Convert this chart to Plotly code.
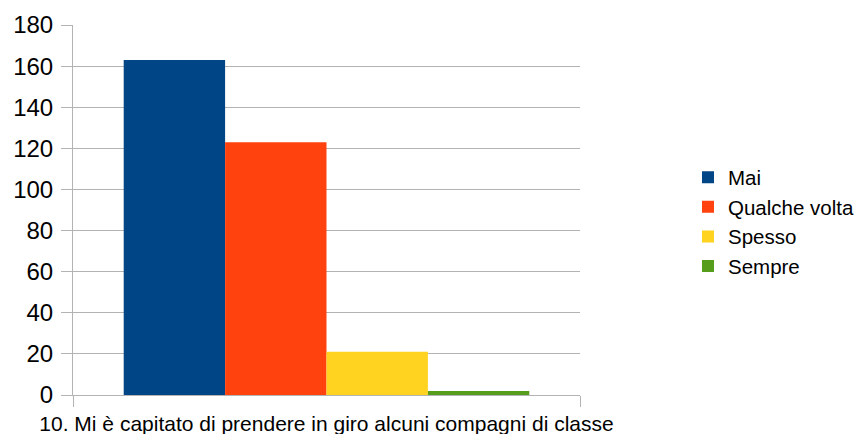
import plotly.graph_objects as go

category = ["10. Mi è capitato di prendere in giro alcuni compagni di classe"]
series_names = ["Mai", "Qualche volta", "Spesso", "Sempre"]
series_values = [163, 123, 21, 2]
colors = ["#004586", "#ff420e", "#ffd320", "#579d1c"]
y_ticks = [0, 20, 40, 60, 80, 100, 120, 140, 160, 180]

fig = go.Figure()
for name, val, col in zip(series_names, series_values, colors):
    fig.add_trace(go.Bar(name=name, x=category, y=[val], marker=dict(color=col, line=dict(width=0))))

grid = "#b3b3b3"
fig.update_layout(
    width=856, height=426,
    margin=dict(l=65, r=284, t=17, b=39, autoexpand=False),
    barmode="group", bargap=0.2, bargroupgap=0,
    paper_bgcolor="white", plot_bgcolor="white",
    font=dict(family="Liberation Sans", color="#000000"),
    legend=dict(x=1.213, y=0.468, xanchor="left", yanchor="middle",
                font=dict(size=20.5), traceorder="normal"),
    xaxis=dict(type="category", range=[-0.5, 0.5], tickson="boundaries",
               showgrid=True, gridcolor=grid, gridwidth=1,
               ticks="outside", ticklen=11, tickcolor=grid,
               showline=True, linecolor=grid, linewidth=1,
               tickangle=0, automargin=False, ticklabelstandoff=10,
               tickfont=dict(size=21)),
    yaxis=dict(range=[0, 180], tickvals=y_ticks, showgrid=True, gridcolor=grid,
               ticks="outside", ticklen=11, tickcolor=grid,
               showline=True, linecolor=grid, zeroline=False, automargin=False,
               ticklabelstandoff=3,
               tickfont=dict(size=24)),
)
fig.write_html("out.html")
